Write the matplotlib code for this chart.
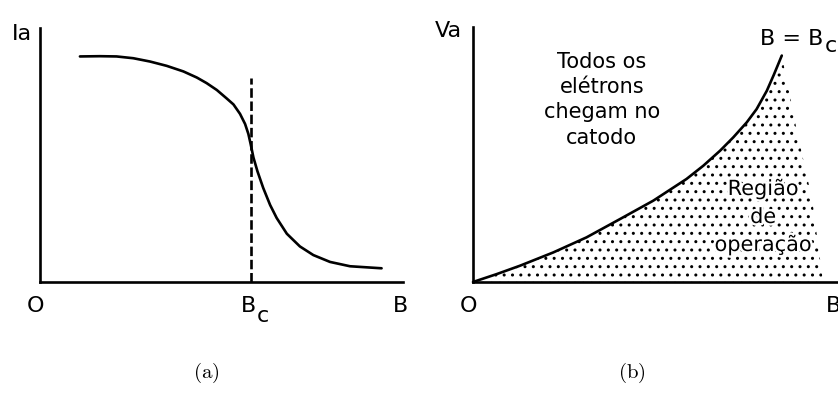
import matplotlib
matplotlib.use("Agg")
import matplotlib.pyplot as plt
from matplotlib import patheffects

plt.rcParams["font.family"] = ["DejaVu Sans"]
plt.rcParams["hatch.linewidth"] = 1.0

# (a) anode current Ia versus magnetic field B (normalised units)
B_a = [0.110, 0.165, 0.211, 0.257, 0.303, 0.349, 0.395, 0.432, 0.459, 0.487,
       0.514, 0.533, 0.551, 0.565, 0.574, 0.580, 0.588, 0.599, 0.615, 0.634,
       0.652, 0.680, 0.716, 0.753, 0.799, 0.854, 0.941]
Ia = [0.888, 0.889, 0.888, 0.881, 0.868, 0.851, 0.829, 0.805, 0.783, 0.756,
      0.723, 0.699, 0.662, 0.622, 0.583, 0.545, 0.490, 0.436, 0.370, 0.303,
      0.252, 0.190, 0.140, 0.106, 0.079, 0.062, 0.054]
B_cutoff = 0.580
cutoff_marker_top = 0.803

# (b) cutoff curve Va(B) for B = Bc and the edge of the operating region
B_b = [0.0, 0.065, 0.129, 0.220, 0.311, 0.403, 0.494, 0.585, 0.631, 0.677,
       0.713, 0.750, 0.777, 0.805, 0.824, 0.846]
Va = [0.0, 0.031, 0.064, 0.116, 0.175, 0.247, 0.319, 0.404, 0.456, 0.515,
      0.567, 0.626, 0.678, 0.750, 0.812, 0.888]
edge_B = [0.846, 0.888, 0.929, 0.959]
edge_V = [0.888, 0.588, 0.325, 0.0]

label_upper = "Todos os\nelétrons\nchegam no\ncatodo"
label_region = "Região\nde\noperação"
panel_tags = [r"$\mathrm{(a)}$", r"$\mathrm{(b)}$"]

W, H = 838, 410
fig = plt.figure(figsize=(W / 100, H / 100), dpi=100)


def axes_px(x0, x1, y_top, y_bot):
    return fig.add_axes([x0 / W, 1 - y_bot / H, (x1 - x0) / W, (y_bot - y_top) / H])


axa = axes_px(40, 403, 29, 283)
axb = axes_px(473, 838, 28, 283)

LW = 1.9
for ax in (axa, axb):
    ax.set_xlim(0, 1)
    ax.set_ylim(0, 1)
    ax.patch.set_visible(False)
    for side in ("top", "right"):
        ax.spines[side].set_visible(False)
    for side in ("left", "bottom"):
        ax.spines[side].set_linewidth(LW)
        ax.spines[side].set_capstyle("projecting")
    ax.set_xticks([])
    ax.set_yticks([])

FS_AX = 16
FS_TXT = 15


def put(ax, s, xy, off, ha="center", size=FS_AX, coords="data"):
    ax.annotate(s, xy=xy, xycoords=coords, xytext=off, textcoords="offset pixels",
                ha=ha, va="baseline", fontsize=size, annotation_clip=False)


# ---- panel (a)
axa.plot(B_a, Ia, color="black", lw=LW, solid_capstyle="round",
         solid_joinstyle="round", clip_on=False)
axa.plot([B_cutoff, B_cutoff], [0, cutoff_marker_top], color="black", lw=LW,
         linestyle=(0, (3.6, 1.4)), clip_on=False)
put(axa, "O", (0, 0), (-5, -29))
put(axa, "B", (B_cutoff, 0), (-2, -29))
put(axa, "c", (B_cutoff, 0), (12, -39))
put(axa, "B", (1, 0), (-3, -29))
put(axa, "Ia", (0, 1), (-28, -11), ha="left", coords="axes fraction")

# ---- panel (b)
region_x = list(B_b) + edge_B[1:] + [0.0]
region_y = list(Va) + edge_V[1:] + [0.0]
axb.fill(region_x, region_y, facecolor="none", edgecolor="black", lw=0,
         hatch="..", clip_on=False)
axb.plot(B_b, Va, color="black", lw=LW, solid_capstyle="round",
         solid_joinstyle="round", clip_on=False)
put(axb, "O", (0, 0), (-5, -29))
put(axb, "B", (1, 0), (-12, -29), ha="left")
put(axb, "Va", (0, 1), (-38, -9), ha="left", coords="axes fraction")
put(axb, "B = B", (B_b[-1], Va[-1]), (-22, 12), ha="left")
put(axb, "c", (B_b[-1], Va[-1]), (43, 5), ha="left")

axb.text(0.353, 0.718, label_upper, ha="center", va="center", fontsize=FS_TXT,
         multialignment="center", linespacing=1.32)
axb.text(0.795, 0.255, label_region, ha="center", va="center", fontsize=FS_TXT,
         multialignment="center", linespacing=1.5,
         path_effects=[patheffects.withStroke(linewidth=3.5, foreground="white")])

# ---- panel tags
for tag, xc in zip(panel_tags, (206, 632)):
    fig.text(xc / W, 1 - 373 / H, tag, ha="center", va="center", fontsize=15,
             math_fontfamily="cm")

fig.savefig("out.png", dpi=100)
